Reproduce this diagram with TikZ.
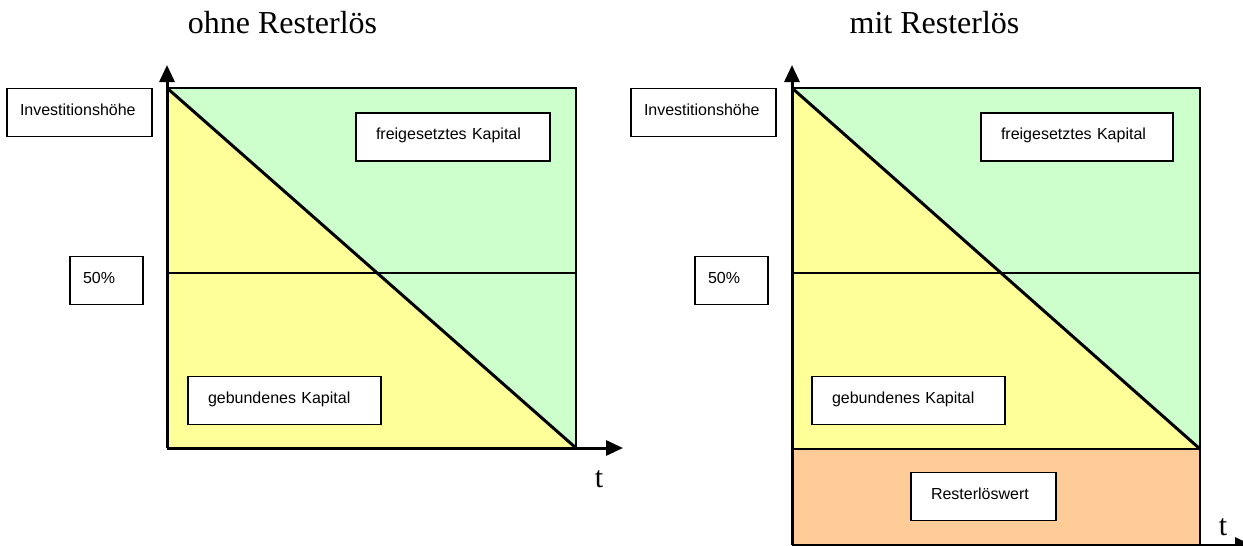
\documentclass[tikz,border=0pt]{standalone}
\usepackage{fontspec}
\setmainfont{Liberation Serif}
\newfontfamily\arial{Liberation Sans}
\usepackage{xcolor}
\usepackage{tikz}
\usetikzlibrary{arrows.meta}

\definecolor{gelb}{HTML}{FFFF99}
\definecolor{gruen}{HTML}{CCFFCC}
\definecolor{orange}{HTML}{FFCC99}

\tikzset{
    lbl/.style={draw, fill=white, line width=1.5pt, inner xsep=20pt, text width=#1,
        text height=12pt, text depth=7pt,
        minimum height=48pt, align=left, font=\arial\fontsize{16}{19}\selectfont},
    achse/.style={line width=3pt, -{Triangle[length=17pt,width=15pt]}},
    titel/.style={anchor=base, font=\fontsize{32}{38}\selectfont},
}

\begin{document}
\begin{tikzpicture}[x=1pt,y=-1pt]
    \useasboundingbox (0,0) rectangle (1243,546);

    \node[titel] (T1) at (282.5,34) {ohne Resterlös};
    \node[titel] (T2) at (934.5,34) {mit Resterlös};

    % ohne Resterloes
    \coordinate (O1) at (167,448);
    \coordinate (A1) at (167,88);
    \coordinate (B1) at (576,88);
    \coordinate (C1) at (576,448);
    \coordinate (Y1) at (167,65);
    \coordinate (X1) at (623,448);
    \coordinate (M1) at (167,273);
    \coordinate (N1) at (576,273);

    \fill[gelb] (A1) -- (O1) -- (C1) -- cycle;
    \fill[gruen] (A1) -- (B1) -- (C1) -- cycle;
    \draw[line width=2pt] (A1) -- (B1) -- (C1);
    \draw[line width=1.5pt] (M1) -- (N1);
    \draw[line width=3pt] (A1) -- (C1);
    \draw[achse] (O1) -- (Y1);
    \draw[achse] (O1) -- (X1);

    \node[lbl=119pt, inner xsep=13pt] (inv1) at (79.5,112.5) {Investitionshöhe};
    \node[lbl=47pt, inner xsep=13pt] (p1) at (106.5,280.5) {50\%};
    \node[lbl=154pt] (frei1) at (453,137) {freigesetztes Kapital};
    \node[lbl=153pt] (geb1) at (284.5,400.5) {gebundenes Kapital};
    \node[anchor=base, font=\fontsize{30}{36}\selectfont] (t1) at (599,487) {t};

    % mit Resterloes
    \coordinate (O2) at (792,545);
    \coordinate (A2) at (792,88);
    \coordinate (B2) at (1200,88);
    \coordinate (C2) at (1200,449);
    \coordinate (D2) at (792,449);
    \coordinate (E2) at (1200,545);
    \coordinate (Y2) at (792,65);
    \coordinate (X2) at (1252,545);
    \coordinate (M2) at (792,273);
    \coordinate (N2) at (1200,273);

    \fill[gelb] (A2) -- (D2) -- (C2) -- cycle;
    \fill[gruen] (A2) -- (B2) -- (C2) -- cycle;
    \fill[orange] (D2) -- (C2) -- (E2) -- (O2) -- cycle;
    \draw[line width=2pt] (A2) -- (B2) -- (C2) -- (E2);
    \draw[line width=2pt] (D2) -- (C2);
    \draw[line width=1.5pt] (M2) -- (N2);
    \draw[line width=3pt] (A2) -- (C2);
    \draw[achse] (O2) -- (Y2);
    \draw[achse] (O2) -- (X2);

    \node[lbl=119pt, inner xsep=13pt] (inv2) at (703.5,112.5) {Investitionshöhe};
    \node[lbl=47pt, inner xsep=13pt] (p2) at (731.5,280.5) {50\%};
    \node[lbl=152pt] (frei2) at (1077,137) {freigesetztes Kapital};
    \node[lbl=153pt] (geb2) at (908.5,400.5) {gebundenes Kapital};
    \node[lbl=105pt] (rest) at (983.5,496.5) {Resterlöswert};
    \node[anchor=base, font=\fontsize{30}{36}\selectfont] (t2) at (1223,535) {t};
\end{tikzpicture}
\end{document}
